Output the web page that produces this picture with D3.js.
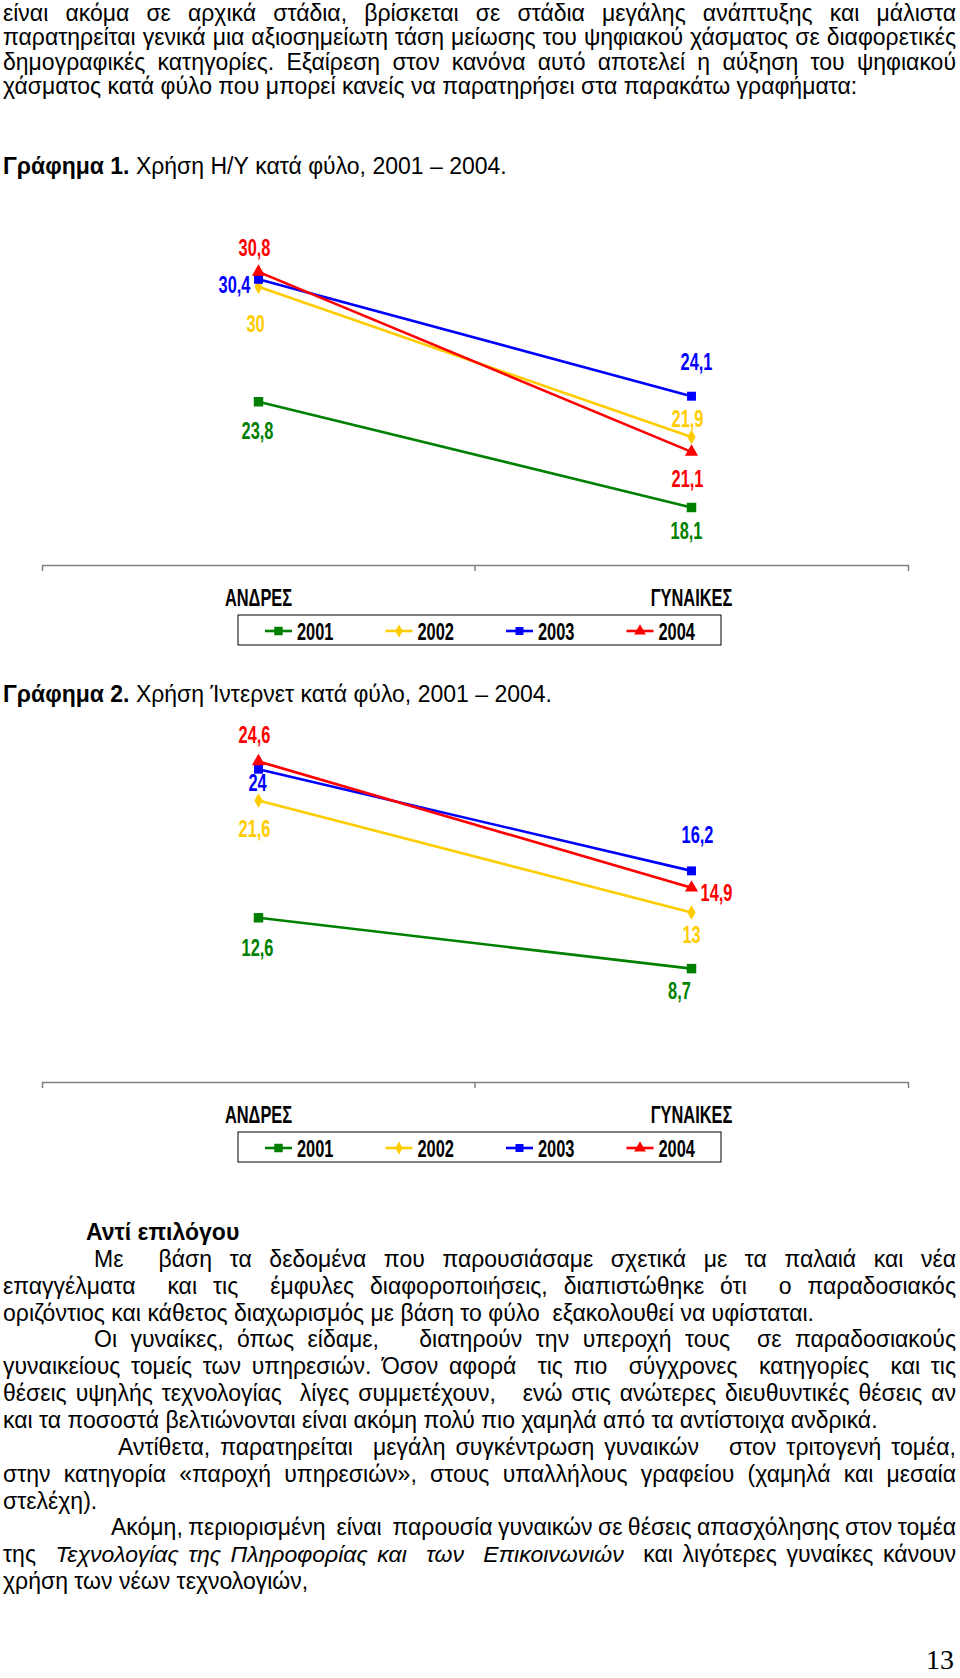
<!DOCTYPE html>
<html><head><meta charset="utf-8">
<script src="https://cdn.jsdelivr.net/npm/d3@7"></script>
<style>html,body{margin:0;padding:0;background:#fff;} svg{display:block}</style>
</head><body>
<svg id="page" width="960" height="1678"></svg>
<script>
// ---------- DATA ----------
const categories = ["ΑΝΔΡΕΣ", "ΓΥΝΑΙΚΕΣ"];
const years = ["2001", "2002", "2003", "2004"];
// Γράφημα 1: Χρήση Η/Υ (%)
const pc2001 = [23.8, 18.1];
const pc2002 = [30, 21.9];
const pc2003 = [30.4, 24.1];
const pc2004 = [30.8, 21.1];
const pcDomain = [15, 35];
// Γράφημα 2: Χρήση Ίντερνετ (%)
const net2001 = [12.6, 8.7];
const net2002 = [21.6, 13];
const net2003 = [24, 16.2];
const net2004 = [24.6, 14.9];
const netDomain = [0, 30];

const title1 = "#Γράφημα #1. Χρήση Η/Υ κατά φύλο, 2001 – 2004.";
const title2 = "#Γράφημα #2. Χρήση Ίντερνετ κατά φύλο, 2001 – 2004.";
const topLines = [
  {t: "είναι ακόμα σε αρχικά στάδια, βρίσκεται σε στάδια μεγάλης ανάπτυξης και μάλιστα", j: true},
  {t: "παρατηρείται γενικά μια αξιοσημείωτη τάση μείωσης του ψηφιακού χάσματος σε διαφορετικές", j: true},
  {t: "δημογραφικές κατηγορίες. Εξαίρεση στον κανόνα αυτό αποτελεί η αύξηση του ψηφιακού", j: true},
  {t: "χάσματος κατά φύλο που μπορεί κανείς να παρατηρήσει στα παρακάτω γραφήματα:", j: false}
];
const bottomLines = [
  {t: "#Αντί #επιλόγου", j: false, ind: 1},
  {t: "Με  βάση τα δεδομένα που παρουσιάσαμε σχετικά με τα παλαιά και νέα", j: true, ind: 2},
  {t: "επαγγέλματα  και τις  έμφυλες διαφοροποιήσεις, διαπιστώθηκε ότι  ο παραδοσιακός", j: true},
  {t: "οριζόντιος και κάθετος διαχωρισμός με βάση το φύλο  εξακολουθεί να υφίσταται.", j: false},
  {t: "Οι γυναίκες, όπως είδαμε,   διατηρούν την υπεροχή τους  σε παραδοσιακούς", j: true, ind: 2},
  {t: "γυναικείους τομείς των υπηρεσιών. Όσον αφορά  τις πιο  σύγχρονες  κατηγορίες  και τις", j: true},
  {t: "θέσεις υψηλής τεχνολογίας  λίγες συμμετέχουν,   ενώ στις ανώτερες διευθυντικές θέσεις αν", j: true},
  {t: "και τα ποσοστά βελτιώνονται είναι ακόμη πολύ πιο χαμηλά από τα αντίστοιχα ανδρικά.", j: false},
  {t: "Αντίθετα, παρατηρείται  μεγάλη συγκέντρωση γυναικών   στον τριτογενή τομέα,", j: true, ind: 3},
  {t: "στην κατηγορία «παροχή υπηρεσιών», στους υπαλλήλους γραφείου (χαμηλά και μεσαία", j: true},
  {t: "στελέχη).", j: false},
  {t: "Ακόμη, περιορισμένη  είναι  παρουσία γυναικών σε θέσεις απασχόλησης στον τομέα", j: true, ind: 4},
  {t: "της  *Τεχνολογίας* *της* *Πληροφορίας* *και*  *των*  *Επικοινωνιών*  και λιγότερες γυναίκες κάνουν", j: true},
  {t: "χρήση των νέων τεχνολογιών,", j: false}
];
const pageNumber = "13";

// ---------- STYLE ----------
const colors = ["#008000", "#FFCC00", "#0000FF", "#FF0000"];
const shapes = [d3.symbolSquare, d3.symbolDiamond, d3.symbolSquare, d3.symbolTriangle];
const shapeSizes = [90, 60, 80, 75];
const FONT = "'Liberation Sans', Arial, sans-serif";
const LEFT = 3, RIGHT = 956;
const indents = {1: 86, 2: 94, 3: 118, 4: 111};
const NX = 0.82, NY = 1.2;     // chart text: narrow & tall

const svg = d3.select("#page");

// ---------- TEXT ----------
const meas = svg.append("text").attr("font-family", FONT).attr("x", -1000).attr("y", -1000);
function measure(s, fs, weight, style) {
  meas.attr("font-size", fs).attr("font-weight", weight || "normal").attr("font-style", style || "normal").text(s);
  return meas.node().getComputedTextLength();
}
const fitLine = "και τα ποσοστά βελτιώνονται είναι ακόμη πολύ πιο χαμηλά από τα αντίστοιχα ανδρικά.";
let FS = 22;
FS = 22 * (878 - LEFT) / measure(fitLine, 22);

function tokenize(t) {
  return t.split(" ").map(s => {
    let txt = s, style = "normal", weight = "normal";
    if (s.length > 1 && s.startsWith("*") && s.endsWith("*")) { txt = s.slice(1, -1); style = "italic"; }
    if (s.startsWith("#")) { txt = s.slice(1); weight = "bold"; }
    return {txt, style, weight};
  });
}
function drawLine(line, y) {
  const toks = tokenize(line.t);
  toks.forEach(k => k.w = k.txt ? measure(k.txt, FS, k.weight, k.style) : 0);
  const x0 = line.ind ? indents[line.ind] : LEFT;
  const total = d3.sum(toks, k => k.w);
  let gap = FS * 0.2778;
  if (line.j) gap = Math.max(1, (RIGHT - x0 - total) / (toks.length - 1));
  const txt = svg.append("text").attr("y", y)
    .attr("font-family", FONT).attr("font-size", FS).attr("fill", "#000");
  let x = x0;
  toks.forEach(k => {
    if (k.txt) txt.append("tspan").attr("x", x).attr("font-style", k.style).attr("font-weight", k.weight).text(k.txt);
    x += k.w + gap;
  });
}
topLines.forEach((l, i) => drawLine(l, 21 + i * 24.4));
drawLine({t: title1, j: false}, 174);
drawLine({t: title2, j: false}, 702);
bottomLines.forEach((l, i) => drawLine(l, 1240 + i * 26.85));
svg.append("text").attr("x", 954).attr("y", 1669).attr("text-anchor", "end")
  .attr("font-family", "'Liberation Serif', 'Times New Roman', serif").attr("font-size", 28).text(pageNumber);
meas.remove();

// ---------- CHARTS ----------
const fmt = v => String(v).replace(".", ",");
function narrowText(sel, x, y, s, color, anchor) {
  sel.append("text")
    .attr("transform", `translate(${x},${y}) scale(${NX},${NY})`)
    .attr("dy", "0.36em")
    .attr("text-anchor", anchor || "middle")
    .attr("font-family", FONT).attr("font-weight", "bold").attr("font-size", 20)
    .attr("fill", color).text(s);
}

function drawChart(o) {
  const g = svg.append("g");
  const x = d3.scaleBand().domain(categories).range([42, 908]);
  const y = d3.scaleLinear().domain(o.domain).range([o.axisY, o.topY]);
  const cx = c => x(c) + x.bandwidth() / 2;

  // category axis
  const ax = g.append("g").attr("transform", `translate(0,${o.axisY})`)
    .call(d3.axisBottom(x).tickSizeInner(0).tickSizeOuter(6).tickPadding(0));
  ax.select(".domain").attr("stroke", "#808080").attr("stroke-width", 1.5);
  ax.selectAll(".tick line").remove();
  ax.selectAll(".tick text")
    .attr("y", 0).attr("dy", "0.36em")
    .attr("font-family", FONT).attr("font-weight", "bold").attr("font-size", 20).attr("fill", "#000")
    .attr("transform", `translate(0,32) scale(${NX},${NY})`);
  ax.append("line").attr("x1", x(categories[1])).attr("x2", x(categories[1]))
    .attr("y1", 0).attr("y2", 6).attr("stroke", "#808080").attr("stroke-width", 1.5);

  const line = d3.line().x((d, i) => cx(categories[i])).y(d => y(d));
  o.series.forEach((vals, si) => {
    g.append("path").datum(vals).attr("d", line).attr("fill", "none")
      .attr("stroke", colors[si]).attr("stroke-width", 2.6);
    vals.forEach((v, ci) => {
      g.append("path").attr("d", d3.symbol().type(shapes[si]).size(shapeSizes[si])())
        .attr("transform", `translate(${cx(categories[ci])},${y(v)})`).attr("fill", colors[si]);
    });
  });
  // data labels
  o.series.forEach((vals, si) => {
    vals.forEach((v, ci) => {
      const off = o.labelOffsets[si][ci];
      narrowText(g, cx(categories[ci]) + off[0], y(v) + off[1], fmt(v), colors[si]);
    });
  });

  // legend
  const lg = g.append("g").attr("transform", `translate(238,${o.legendY})`);
  lg.append("rect").attr("width", 483).attr("height", 30).attr("fill", "#fff")
    .attr("stroke", "#000").attr("stroke-width", 1);
  years.forEach((yr, i) => {
    const x0 = 27 + i * 120.5;
    lg.append("line").attr("x1", x0).attr("x2", x0 + 27).attr("y1", 16).attr("y2", 16)
      .attr("stroke", colors[i]).attr("stroke-width", 2.6);
    lg.append("path").attr("d", d3.symbol().type(shapes[i]).size(shapeSizes[i] * 0.8)())
      .attr("transform", `translate(${x0 + 13.5},16)`).attr("fill", colors[i]);
    narrowText(lg, x0 + 32, 16, yr, "#000", "start");
  });
}

drawChart({
  domain: pcDomain, axisY: 565, topY: 194, legendY: 615,
  series: [pc2001, pc2002, pc2003, pc2004],
  labelOffsets: [
    [[-1, 29], [-5, 23]],
    [[-3, 37], [-4, -19]],
    [[-24, 5], [5, -35]],
    [[-4, -25], [-4, 27]]
  ]
});
drawChart({
  domain: netDomain, axisY: 1082, topY: 691, legendY: 1132,
  series: [net2001, net2002, net2003, net2004],
  labelOffsets: [
    [[-1, 30], [-12, 22]],
    [[-4, 28], [0, 22]],
    [[-1, 13], [6, -37]],
    [[-4, -27], [25, 5]]
  ]
});
</script>
</body></html>
